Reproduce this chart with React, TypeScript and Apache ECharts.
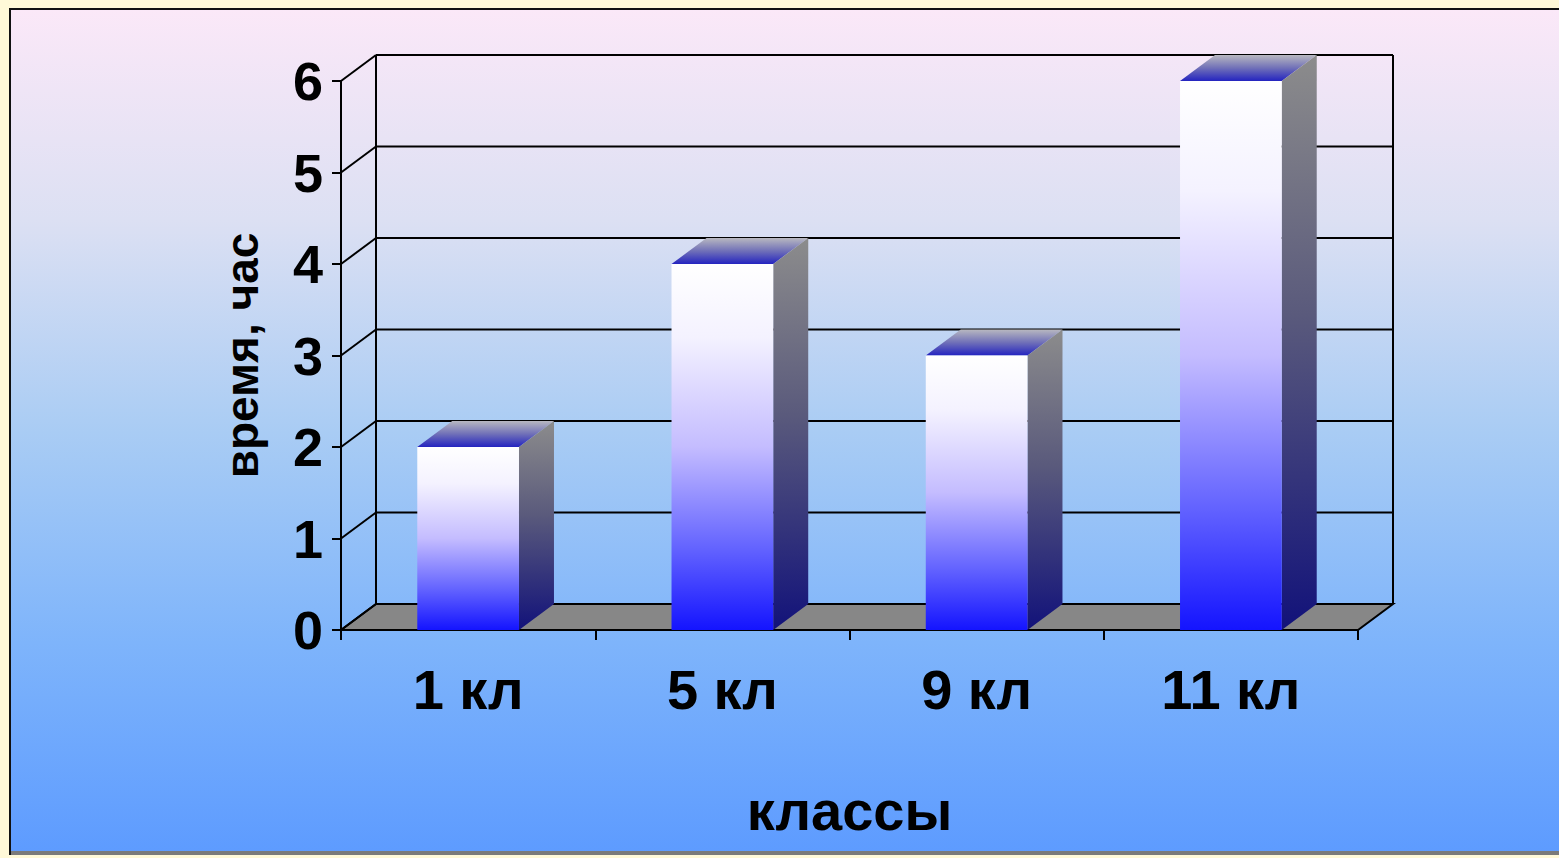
import React, { useEffect, useRef } from "react";
import * as echarts from "echarts";

const categories = ["1 кл", "5 кл", "9 кл", "11 кл"];
const hours = [2, 4, 3, 6];
const yTicks = [0, 1, 2, 3, 4, 5, 6];
const yAxisTitle = "время, час";
const xAxisTitle = "классы";

const DX = 35;
const DY = -26;
const FONT = "'Liberation Sans', Arial, sans-serif";

export default function App() {
  const ref = useRef<HTMLDivElement>(null);
  useEffect(() => {
    const chart = echarts.init(ref.current!, null, { renderer: "svg" });
    const yMin = yTicks[0];
    const yMax = yTicks[yTicks.length - 1];
    const line = { stroke: "#000", lineWidth: 2 };

    const walls = {
      type: "custom",
      coordinateSystem: "cartesian2d",
      z: 1,
      silent: true,
      clip: false,
      encode: { x: 0, y: 1 },
      data: yTicks.map((v) => [0, v]),
      renderItem: (params: any, api: any) => {
        const cs = params.coordSys;
        const x0 = cs.x;
        const x1 = cs.x + cs.width;
        const v = api.value(1);
        const y = api.coord([0, v])[1];
        const yBase = api.coord([0, yMin])[1];
        const yTop = api.coord([0, yMax])[1];
        const children: any[] = [];
        if (v === yMin) {
          children.push({
            type: "polygon",
            shape: { points: [[x0, y], [x1, y], [x1 + DX, y + DY], [x0 + DX, y + DY]] },
            style: { fill: "#878787", stroke: "#000", lineWidth: 2 },
          });
        }
        children.push({ type: "line", shape: { x1: x0, y1: y, x2: x0 + DX, y2: y + DY }, style: line });
        children.push({ type: "line", shape: { x1: x0 + DX, y1: y + DY, x2: x1 + DX, y2: y + DY }, style: line });
        if (v === yMax) {
          children.push({ type: "line", shape: { x1: x0 + DX, y1: yTop + DY, x2: x0 + DX, y2: yBase + DY }, style: line });
          children.push({ type: "line", shape: { x1: x1 + DX, y1: yTop + DY, x2: x1 + DX, y2: yBase + DY }, style: line });
        }
        return { type: "group", children };
      },
    };

    const bars = {
      type: "custom",
      coordinateSystem: "cartesian2d",
      z: 3,
      clip: false,
      encode: { x: 0, y: 1 },
      data: hours.map((h, i) => [i, h]),
      renderItem: (params: any, api: any) => {
        const i = api.value(0);
        const h = api.value(1);
        const [cx, yv] = api.coord([i, h]);
        const y0 = api.coord([i, 0])[1];
        const bw = api.size([1, 0])[0] * 0.4;
        const l = cx - bw / 2;
        const r = cx + bw / 2;
        return {
          type: "group",
          children: [
            {
              type: "polygon",
              shape: { points: [[l, yv], [r, yv], [r + DX, yv + DY], [l + DX, yv + DY]] },
              style: {
                fill: new echarts.graphic.LinearGradient(0, 0, 0, 1, [
                  { offset: 0, color: "#b8b8c0" },
                  { offset: 0.5, color: "#7070b8" },
                  { offset: 1, color: "#2424c0" },
                ]),
              },
            },
            {
              type: "polygon",
              shape: { points: [[r, yv], [r + DX, yv + DY], [r + DX, y0 + DY], [r, y0]] },
              style: {
                fill: new echarts.graphic.LinearGradient(0, 0, 0, 1, [
                  { offset: 0, color: "#8c8c8c" },
                  { offset: 0.45, color: "#5a5a7c" },
                  { offset: 1, color: "#12127a" },
                ]),
              },
            },
            {
              type: "rect",
              shape: { x: l, y: yv, width: bw, height: y0 - yv },
              style: {
                fill: new echarts.graphic.LinearGradient(0, 0, 0, 1, [
                  { offset: 0, color: "#ffffff" },
                  { offset: 0.2, color: "#f4f2ff" },
                  { offset: 0.5, color: "#c4bcff" },
                  { offset: 0.78, color: "#6262ff" },
                  { offset: 1, color: "#1414ff" },
                ]),
              },
            },
          ],
        };
      },
    };

    const option: any = {
      animation: false,
      backgroundColor: "#FFF9D8",
      graphic: [
        {
          type: "rect",
          z: -10,
          silent: true,
          shape: { x: 10, y: 9, width: 1560, height: 845 },
          style: {
            fill: new echarts.graphic.LinearGradient(0, 0, 0, 1, [
              { offset: 0, color: "#FBE8F8" },
              { offset: 0.25, color: "#DCE0F3" },
              { offset: 0.5, color: "#A9CCF4" },
              { offset: 0.75, color: "#7EB4FB" },
              { offset: 1, color: "#5D9BFF" },
            ]),
            stroke: "#111",
            lineWidth: 2,
          },
        },
        {
          type: "rect",
          z: -9,
          silent: true,
          shape: { x: 11, y: 851, width: 1550, height: 4 },
          style: { fill: "#7a7a7a" },
        },
      ],
      grid: { left: 341, top: 81, width: 1017, height: 549 },
      xAxis: {
        type: "category",
        data: categories,
        axisLine: { show: true, lineStyle: { color: "#000", width: 2 } },
        axisTick: { show: true, length: 10, lineStyle: { color: "#000", width: 2 } },
        axisLabel: { fontSize: 56, fontWeight: "bold", color: "#000", margin: 31, fontFamily: FONT },
        splitLine: { show: false },
        name: xAxisTitle,
        nameLocation: "middle",
        nameGap: 152,
        nameTextStyle: { fontSize: 56, fontWeight: "bold", color: "#000", fontFamily: FONT },
      },
      yAxis: {
        type: "value",
        min: 0,
        max: 6,
        interval: 1,
        axisLine: { show: true, lineStyle: { color: "#000", width: 2 } },
        axisTick: { show: true, length: 9, lineStyle: { color: "#000", width: 2 } },
        axisLabel: { fontSize: 54, fontWeight: "bold", color: "#000", margin: 18, fontFamily: FONT },
        splitLine: { show: false },
        name: yAxisTitle,
        nameLocation: "middle",
        nameGap: 76,
        nameTextStyle: { fontSize: 46, fontWeight: "bold", color: "#000", fontFamily: FONT },
      },
      series: [walls, bars],
    };
    chart.setOption(option);
    return () => chart.dispose();
  }, []);
  return (
    <div
      ref={ref}
      style={{ position: "fixed", left: 0, top: 0, width: 1559, height: 858 }}
    />
  );
}
